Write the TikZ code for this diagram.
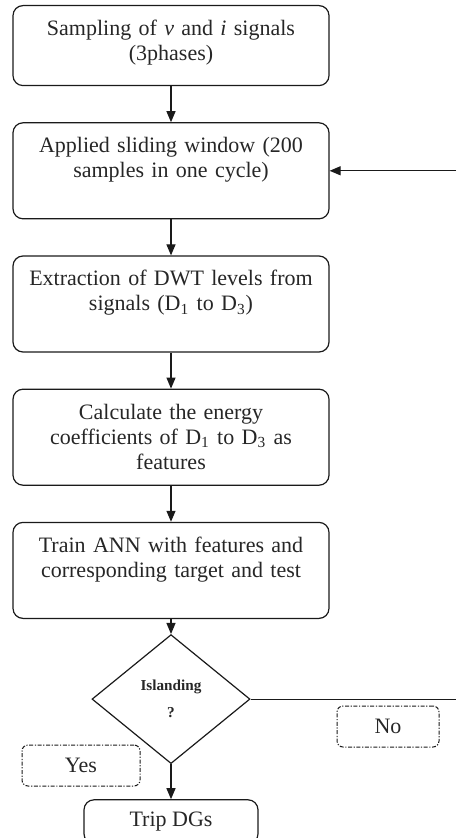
\documentclass[tikz,border=0pt]{standalone}
\usepackage{fontspec}
\setmainfont{Liberation Serif}
\usepackage{xcolor}
\definecolor{cLine}{HTML}{1A1A1A}
\definecolor{cText}{HTML}{262626}
\usepackage{tikz}
\usetikzlibrary{positioning,arrows.meta,shapes.geometric}
\tikzset{
  node-box/.style={draw=cLine,line width=0.6pt,rounded corners=5pt,
    text width=158pt,inner xsep=0pt,inner ysep=0pt,align=center,
    text height=15pt,text depth=#1,font=\fontsize{11}{12.5}\selectfont,
    text=cText},
  node-box/.default=33pt,
  node-end/.style={draw=cLine,line width=0.6pt,rounded corners=5pt,
    minimum width=87pt,minimum height=22pt,inner sep=0pt,
    font=\fontsize{11}{12.5}\selectfont,text=cText},
  node-decide/.style={draw=cLine,line width=0.6pt,diamond,inner sep=0pt,
    minimum width=79pt,minimum height=64.5pt,align=center,
    font=\fontsize{7.6}{13.5}\selectfont\bfseries,text=cText},
  % etiquetas Yes / No con borde punto-raya
  node-tag/.style={draw=cLine,line width=0.5pt,
    dash pattern=on 2pt off 0.8pt on 0.6pt off 0.8pt,rounded corners=3pt,
    minimum height=20.5pt,inner sep=0pt,
    font=\fontsize{11}{12.5}\selectfont,text=cText},
  arrow/.style={-{Triangle[length=5.5pt,width=4.5pt]},line width=0.6pt,draw=cLine},
  link/.style={line width=0.6pt,draw=cLine},
}

\begin{document}
\begin{tikzpicture}[node distance=18pt]
  \useasboundingbox (0,0) rectangle (228pt,-419pt);
  \node[node-box=25pt,anchor=north] (b1) at (85.5pt,-2.5pt)
    {Sampling of \textit{v} and \textit{i} signals\\(3phases)};
  \node[node-box,below=of b1] (b2) {Applied sliding window (200\\samples in one cycle)};
  \node[node-box,below=of b2] (b3)
    {Extraction of DWT levels from\\signals (D\textsubscript{1} to D\textsubscript{3})};
  \node[node-box,below=of b3] (b4)
    {Calculate the energy\\coefficients of D\textsubscript{1} to D\textsubscript{3} as\\features};
  \node[node-box,below=of b4] (b5) {Train ANN with features and\\corresponding target and test};
  \node[node-decide,below=7.5pt of b5] (isl) {Islanding\\?};
  \node[node-end,below=17.5pt of isl] (trip) {Trip DGs};
  \node[node-tag,minimum width=59pt] (yes) at (40.5pt,-382.75pt) {Yes};
  \node[node-tag,minimum width=51pt] (no) at (194pt,-363.25pt) {No};
  \coordinate (edge) at (228pt,0);

  \draw[arrow] (b1) -- (b2);
  \draw[arrow] (b2) -- (b3);
  \draw[arrow] (b3) -- (b4);
  \draw[arrow] (b4) -- (b5);
  \draw[arrow] (b5) -- (isl);
  \draw[arrow] (isl) -- (trip);
  \draw[link] (isl.east) -- (isl.east -| edge);
  \draw[arrow] (b2.east -| edge) -- (b2.east);
\end{tikzpicture}
\end{document}
